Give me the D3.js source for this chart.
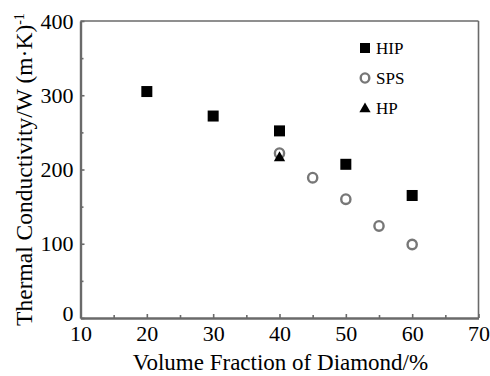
<!DOCTYPE html>
<html><head><meta charset="utf-8">
<script src="https://cdn.jsdelivr.net/npm/d3@7"></script>
<style>
html,body{margin:0;padding:0;background:#fff;}
svg{display:block;}
svg text{font-family:"Liberation Serif","Times New Roman",serif;}
</style></head>
<body>
<svg id="chart" width="490" height="376"></svg>
<script>
const xTicks = [10,20,30,40,50,60,70];
const yTicks = [0,100,200,300,400];
const xMinor = [15,25,35,45,55,65];
const yMinor = [50,150,250,350];
const hipX = [20,30,40,50,60];
const hipY = [305,272,252,207,165];
const spsX = [40,45,50,55,60];
const spsY = [222,189,160,124,99];
const hpX = [40];
const hpY = [217];
const legendLabels = ["HIP","SPS","HP"];

const svg = d3.select("#chart");
const L=80.5,R=478.5,T=21,B=318;
const x = d3.scaleLinear().domain([10,70]).range([L,R]);
const y = d3.scaleLinear().domain([0,400]).range([B,T]);
const axisCol = "#6a6a6a";
const FONT = "Liberation Serif, Times New Roman, serif";

// frame top/right
svg.append("line").attr("x1",L).attr("x2",R).attr("y1",T).attr("y2",T).attr("stroke",axisCol).attr("stroke-width",1.6);
svg.append("line").attr("x1",R).attr("x2",R).attr("y1",T).attr("y2",B).attr("stroke",axisCol).attr("stroke-width",1.6);

function styleAxis(g){
  g.attr("font-family",FONT);
  g.select(".domain").attr("stroke",axisCol).attr("stroke-width",2.4);
  g.selectAll(".tick line").attr("stroke",axisCol).attr("stroke-width",1.6);
  g.selectAll(".tick text").attr("fill","#000").attr("font-family",FONT).style("font-size","22px");
}
const gxMinor = svg.append("g").attr("transform",`translate(0,${B})`)
  .call(d3.axisBottom(x).tickValues(xMinor).tickSize(-3).tickFormat("").tickSizeOuter(0));
gxMinor.select(".domain").remove(); gxMinor.selectAll(".tick line").attr("stroke",axisCol).attr("stroke-width",1.6);
const gyMinor = svg.append("g").attr("transform",`translate(${L},0)`)
  .call(d3.axisLeft(y).tickValues(yMinor).tickSize(-3).tickFormat("").tickSizeOuter(0));
gyMinor.select(".domain").remove(); gyMinor.selectAll(".tick line").attr("stroke",axisCol).attr("stroke-width",1.6);

const gx = svg.append("g").attr("transform",`translate(0,${B})`)
  .call(d3.axisBottom(x).tickValues(xTicks).tickSize(-4).tickSizeOuter(0).tickPadding(7));
styleAxis(gx);
const gy = svg.append("g").attr("transform",`translate(${L},0)`)
  .call(d3.axisLeft(y).tickValues(yTicks).tickSize(-4).tickSizeOuter(0).tickPadding(7));
styleAxis(gy);
gy.selectAll(".tick text").filter(d=>d===0).attr("dy","0.1em");

// titles
svg.append("text").attr("x",(L+R)/2+1).attr("y",370).attr("text-anchor","middle")
  .attr("font-family",FONT).style("font-size","23px").text("Volume Fraction of Diamond/%");
const yt = svg.append("text").attr("transform",`translate(32,${(T+B)/2}) rotate(-90)`).attr("text-anchor","middle")
  .attr("font-family",FONT).style("font-size","23.5px");
yt.append("tspan").text("Thermal Conductivity/W (m·K)");
yt.append("tspan").attr("dy","-0.55em").style("font-size","14px").text("-1");

// data
const sq = 11;
svg.append("g").selectAll("rect").data(hipX).join("rect")
  .attr("x",(d,i)=>x(d)-sq/2).attr("y",(d,i)=>y(hipY[i])-sq/2).attr("width",sq).attr("height",sq).attr("fill","#000");
svg.append("g").selectAll("ellipse").data(spsX).join("ellipse")
  .attr("cx",d=>x(d)).attr("cy",(d,i)=>y(spsY[i])).attr("rx",4.6).attr("ry",4.8)
  .attr("fill","none").attr("stroke","#777").attr("stroke-width",2.4);
const tri = d3.symbol().type(d3.symbolTriangle).size(55);
svg.append("g").selectAll("path").data(hpX).join("path")
  .attr("transform",(d,i)=>`translate(${x(d)},${y(hpY[i])+1})`).attr("d",tri).attr("fill","#000");

// legend
const lg = svg.append("g");
const lx = 365, ly = [48,78,108];
lg.append("rect").attr("x",lx-5).attr("y",ly[0]-5).attr("width",10).attr("height",10).attr("fill","#000");
lg.append("ellipse").attr("cx",lx).attr("cy",ly[1]).attr("rx",4.3).attr("ry",4.6).attr("fill","none").attr("stroke","#777").attr("stroke-width",2.4);
lg.append("path").attr("transform",`translate(${lx},${ly[2]+1})`).attr("d",d3.symbol().type(d3.symbolTriangle).size(55)()).attr("fill","#000");
legendLabels.forEach((t,i)=>{
  lg.append("text").attr("x",376).attr("y",ly[i]+6).attr("font-family",FONT).style("font-size","17px").text(t);
});
</script>
</body></html>
